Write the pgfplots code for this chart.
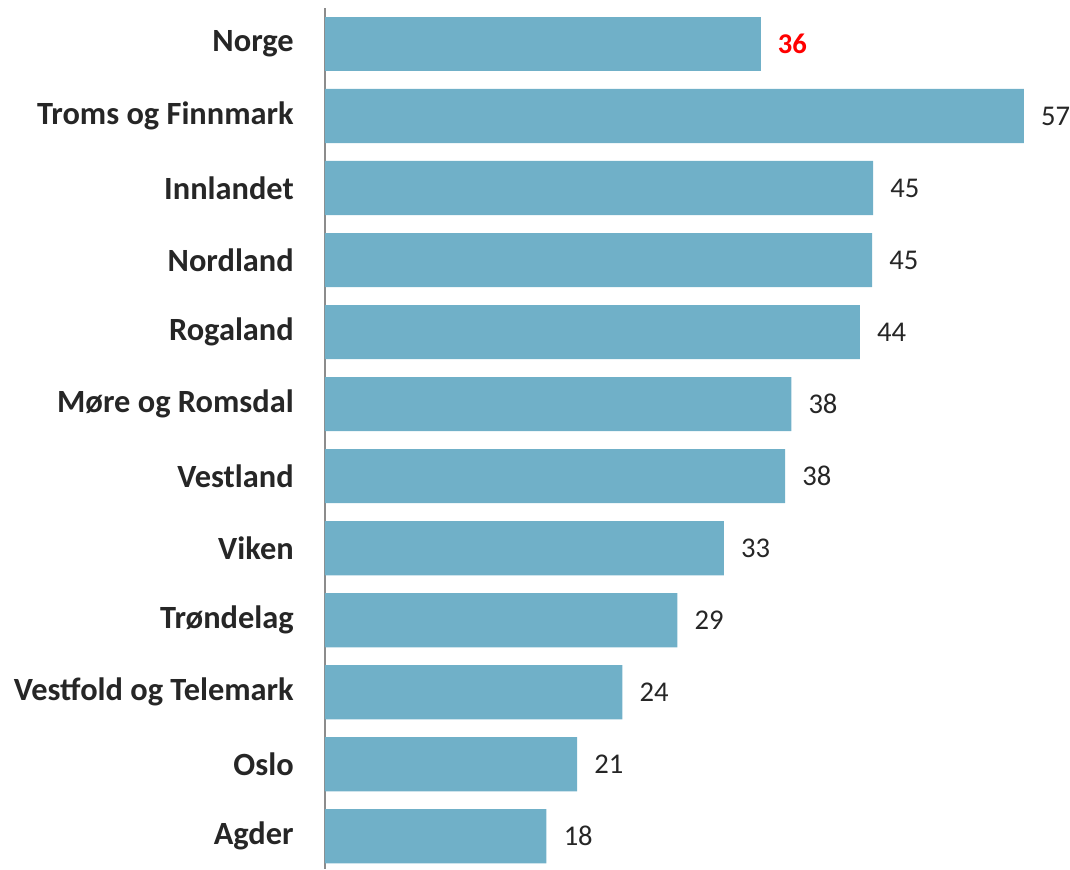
\documentclass[border=0pt]{standalone}
\usepackage{pgfplots}
\pgfplotsset{compat=1.18}
\usepackage{fontspec}
\setmainfont{Carlito}
\definecolor{barc}{HTML}{70B0C8}
\definecolor{txt}{HTML}{262626}
\definecolor{axc}{HTML}{8C8C8C}
\begin{document}
\begin{tikzpicture}
\begin{axis}[
  xbar, bar shift=0pt, bar width=54pt,
  scale only axis, width=732pt, height=858pt,
  xmin=0, xmax=60, ymin=-0.5, ymax=11.45, y dir=reverse,
  axis x line=none, axis y line*=left,
  y axis line style={draw=axc, line width=1.5pt, -},
  ytick={0,...,11},
  yticklabels={Norge, Troms og Finnmark, Innlandet, Nordland, Rogaland, Møre og Romsdal, Vestland, Viken, Trøndelag, Vestfold og Telemark, Oslo, Agder},
  major tick length=0pt,
  yticklabel style={font=\fontsize{32.3}{38}\selectfont\bfseries, text=txt, inner sep=0pt, xshift=-31pt},
  /pgf/number format/assume math mode=true,
  /pgf/number format/.cd, fixed, precision=0, /pgfplots/.cd,
  nodes near coords,
  nodes near coords style={font=\fontsize{28.5}{34}\selectfont, text=txt, anchor=west, inner sep=0pt, xshift=17pt},
  clip=false,
]
\addplot[fill=barc, draw=none, nodes near coords style={text=red, font=\fontsize{28.5}{34}\selectfont\bfseries}] coordinates {(35.6,0)};
\addplot[fill=barc, draw=none] coordinates {
  (57.1,1) (44.8,2) (44.7,3) (43.7,4) (38.1,5) (37.6,6) (32.6,7) (28.8,8) (24.3,9) (20.6,10) (18.1,11)
};
\end{axis}
\path ([xshift=-324pt]current axis.south west) -- ([xshift=-324pt,yshift=8pt]current axis.north west);
\end{tikzpicture}
\end{document}
